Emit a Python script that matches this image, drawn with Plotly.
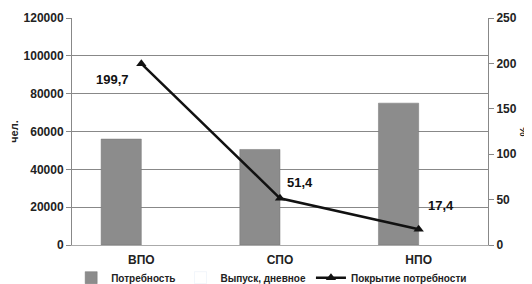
import plotly.graph_objects as go

categories = ["ВПО", "СПО", "НПО"]
need = [56000, 50500, 75000]
output_day = [None, None, None]
coverage = [199.7, 51.4, 17.4]
coverage_labels = ["199,7", "51,4", "17,4"]
label_shift = [(-29, -16), (20, 16), (22, 24)]

BOLD = dict(family="Liberation Sans", weight="bold", color="#222222")

fig = go.Figure()
fig.add_trace(go.Bar(x=categories, y=need, name="Потребность",
                     marker=dict(color="#8c8c8c", line=dict(color="#777777", width=0.5))))
fig.add_trace(go.Bar(x=categories, y=output_day, name="Выпуск, дневное",
                     marker=dict(color="rgba(0,0,0,0)")))
fig.add_trace(go.Scatter(x=categories, y=coverage, name="Покрытие потребности", yaxis="y2",
                         mode="lines+markers",
                         line=dict(color="#111111", width=2.5),
                         marker=dict(symbol="triangle-up", size=9, color="#111111")))

for c, v, t, (dx, dy) in zip(categories, coverage, coverage_labels, label_shift):
    fig.add_annotation(x=c, y=v, yref="y2", text=t, showarrow=False,
                       xshift=dx, yshift=dy,
                       font=dict(BOLD, size=13, color="#111111"))

fig.add_annotation(x=1, y=0.5, xref="paper", yref="paper", text="%", showarrow=False,
                   textangle=-90, xanchor="center", yanchor="middle", xshift=35,
                   font=dict(BOLD, size=11))

# page body has an 8px margin, so the figure is sized to fit the 532x284 window
fig.update_layout(
    width=524, height=276,
    margin=dict(l=64, r=44, t=10, b=39, autoexpand=False),
    paper_bgcolor="white", plot_bgcolor="white",
    barmode="group", bargap=0.42, bargroupgap=0,
    font=dict(BOLD, size=12),
    showlegend=True,
    legend=dict(orientation="h", x=0.48, xanchor="center", y=-0.08, yanchor="top",
                font=dict(BOLD, size=10), itemwidth=30, tracegroupgap=0,
                bgcolor="rgba(0,0,0,0)"),
    xaxis=dict(showline=True, linecolor="#aaaaaa", tickfont=dict(BOLD, size=12),
               ticks="outside", ticklen=4, tickcolor="rgba(0,0,0,0)", showgrid=False),
    yaxis=dict(range=[0, 120000], dtick=20000, tickformat="d", showgrid=True,
               gridcolor="#888888", gridwidth=1, showline=True, linecolor="#888888",
               ticks="outside", ticklen=5, tickcolor="#888888",
               tickfont=dict(BOLD, size=12),
               title=dict(text="чел.", font=dict(BOLD, size=11), standoff=6)),
    yaxis2=dict(range=[0, 250], dtick=50, overlaying="y", side="right",
                showgrid=False, showline=True, linecolor="#888888", ticks="outside",
                ticklen=5, tickcolor="#888888", tickfont=dict(BOLD, size=12)),
)
fig.write_html("out.html")
